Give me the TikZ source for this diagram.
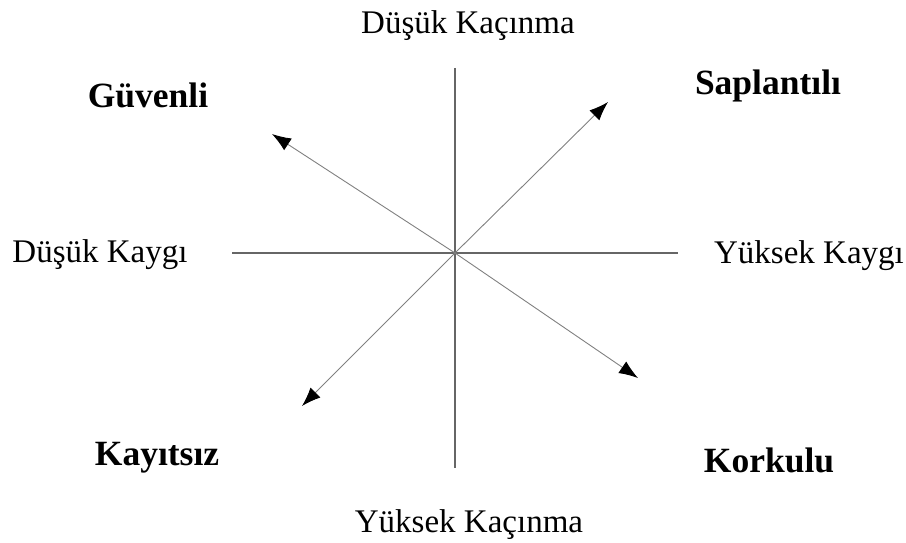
\documentclass[tikz,border=0pt]{standalone}
\usepackage{fontspec}
\setmainfont{Liberation Serif}
\usetikzlibrary{arrows.meta}

\begin{document}
\begin{tikzpicture}[x=1pt,y=-1pt,
                    axis/.style={draw=black!60,line width=2pt},
                    dir/.style={draw=black!50,line width=0.9pt,-{Latex[length=19pt,width=14pt,black]}},
                    pole/.style={font=\fontsize{33}{40}\selectfont,anchor=base},
                    type/.style={font=\fontsize{35.5}{42}\selectfont\bfseries,anchor=base}]
    \useasboundingbox (0,0) rectangle (906,543);

      \coordinate (o) at (455,253);
      \coordinate (top) at (455,68);
      \coordinate (bot) at (455,468);
      \coordinate (lft) at (232,253);
      \coordinate (rgt) at (678,253);

      % axes
      \path[axis] (top) -- (bot);
      \path[axis] (lft) -- (rgt);

      % arrow tips
      \coordinate (g) at (272,134);
      \coordinate (s) at (608,102);
      \coordinate (k) at (302,406);
      \coordinate (f) at (638,378);

      \path[dir] (o) -- (g);
      \path[dir] (o) -- (s);
      \path[dir] (o) -- (k);
      \path[dir] (o) -- (f);

      % axis poles
      \node[pole] (dkac) at (468,34) {Düşük Kaçınma};
      \node[pole] (ykac) at (469,532) {Yüksek Kaçınma};
      \node[pole] (dkay) at (100,262) {Düşük Kaygı};
      \node[pole] (ykay) at (809,263) {Yüksek Kaygı};

      % attachment styles
      \node[type] (guv) at (148,107) {Güvenli};
      \node[type] (sap) at (768,95) {Saplantılı};
      \node[type] (kay) at (157,465) {Kayıtsız};
      \node[type] (kor) at (769,472) {Korkulu};

    \end{tikzpicture}
\end{document}
